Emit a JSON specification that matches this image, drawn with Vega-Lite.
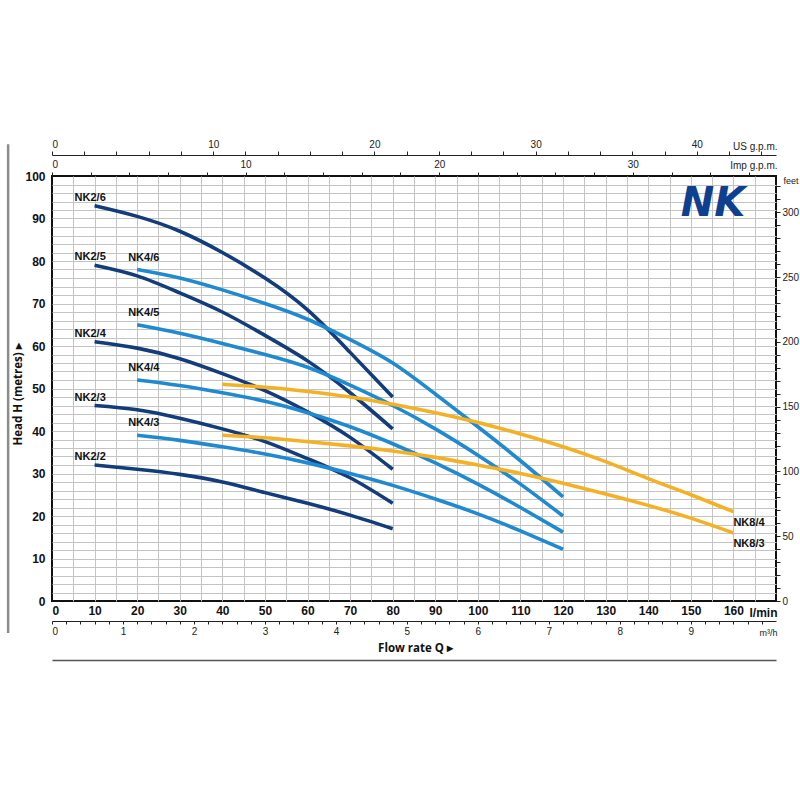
{
  "$schema": "https://vega.github.io/schema/vega-lite/v6.json",
  "width": 724,
  "height": 425,
  "autosize": {"type": "none"},
  "padding": {"left": 52, "top": 176, "right": 24, "bottom": 199},
  "background": "white",
  "data": {
    "values": [
      {"series": "NK2/6", "family": "NK2", "Q": 10, "H": 93},
      {"series": "NK2/6", "family": "NK2", "Q": 20, "H": 90.5},
      {"series": "NK2/6", "family": "NK2", "Q": 30, "H": 87},
      {"series": "NK2/6", "family": "NK2", "Q": 40, "H": 82},
      {"series": "NK2/6", "family": "NK2", "Q": 50, "H": 76},
      {"series": "NK2/6", "family": "NK2", "Q": 60, "H": 68.5},
      {"series": "NK2/6", "family": "NK2", "Q": 70, "H": 58.5},
      {"series": "NK2/6", "family": "NK2", "Q": 80, "H": 48},
      {"series": "NK2/5", "family": "NK2", "Q": 10, "H": 79},
      {"series": "NK2/5", "family": "NK2", "Q": 20, "H": 76.5},
      {"series": "NK2/5", "family": "NK2", "Q": 30, "H": 72.5},
      {"series": "NK2/5", "family": "NK2", "Q": 40, "H": 68},
      {"series": "NK2/5", "family": "NK2", "Q": 50, "H": 62.5},
      {"series": "NK2/5", "family": "NK2", "Q": 60, "H": 56.5},
      {"series": "NK2/5", "family": "NK2", "Q": 70, "H": 49},
      {"series": "NK2/5", "family": "NK2", "Q": 80, "H": 40.5},
      {"series": "NK2/4", "family": "NK2", "Q": 10, "H": 61},
      {"series": "NK2/4", "family": "NK2", "Q": 20, "H": 59.5},
      {"series": "NK2/4", "family": "NK2", "Q": 30, "H": 57},
      {"series": "NK2/4", "family": "NK2", "Q": 40, "H": 53.5},
      {"series": "NK2/4", "family": "NK2", "Q": 50, "H": 49.5},
      {"series": "NK2/4", "family": "NK2", "Q": 60, "H": 44.5},
      {"series": "NK2/4", "family": "NK2", "Q": 70, "H": 38.5},
      {"series": "NK2/4", "family": "NK2", "Q": 80, "H": 31},
      {"series": "NK2/3", "family": "NK2", "Q": 10, "H": 46},
      {"series": "NK2/3", "family": "NK2", "Q": 20, "H": 45},
      {"series": "NK2/3", "family": "NK2", "Q": 30, "H": 43},
      {"series": "NK2/3", "family": "NK2", "Q": 40, "H": 40.5},
      {"series": "NK2/3", "family": "NK2", "Q": 50, "H": 37.5},
      {"series": "NK2/3", "family": "NK2", "Q": 60, "H": 33.5},
      {"series": "NK2/3", "family": "NK2", "Q": 70, "H": 29},
      {"series": "NK2/3", "family": "NK2", "Q": 80, "H": 23},
      {"series": "NK2/2", "family": "NK2", "Q": 10, "H": 32},
      {"series": "NK2/2", "family": "NK2", "Q": 20, "H": 31},
      {"series": "NK2/2", "family": "NK2", "Q": 30, "H": 29.8},
      {"series": "NK2/2", "family": "NK2", "Q": 40, "H": 28},
      {"series": "NK2/2", "family": "NK2", "Q": 50, "H": 25.5},
      {"series": "NK2/2", "family": "NK2", "Q": 60, "H": 23},
      {"series": "NK2/2", "family": "NK2", "Q": 70, "H": 20.2},
      {"series": "NK2/2", "family": "NK2", "Q": 80, "H": 17},
      {"series": "NK4/6", "family": "NK4", "Q": 20, "H": 78},
      {"series": "NK4/6", "family": "NK4", "Q": 30, "H": 76},
      {"series": "NK4/6", "family": "NK4", "Q": 40, "H": 73.2},
      {"series": "NK4/6", "family": "NK4", "Q": 50, "H": 70},
      {"series": "NK4/6", "family": "NK4", "Q": 60, "H": 66.3},
      {"series": "NK4/6", "family": "NK4", "Q": 70, "H": 61.5},
      {"series": "NK4/6", "family": "NK4", "Q": 80, "H": 56},
      {"series": "NK4/6", "family": "NK4", "Q": 90, "H": 48.7},
      {"series": "NK4/6", "family": "NK4", "Q": 100, "H": 41},
      {"series": "NK4/6", "family": "NK4", "Q": 110, "H": 33},
      {"series": "NK4/6", "family": "NK4", "Q": 120, "H": 24.5},
      {"series": "NK4/5", "family": "NK4", "Q": 20, "H": 65},
      {"series": "NK4/5", "family": "NK4", "Q": 30, "H": 63},
      {"series": "NK4/5", "family": "NK4", "Q": 40, "H": 60.6},
      {"series": "NK4/5", "family": "NK4", "Q": 50, "H": 58},
      {"series": "NK4/5", "family": "NK4", "Q": 60, "H": 55},
      {"series": "NK4/5", "family": "NK4", "Q": 70, "H": 50.8},
      {"series": "NK4/5", "family": "NK4", "Q": 80, "H": 46},
      {"series": "NK4/5", "family": "NK4", "Q": 90, "H": 40.5},
      {"series": "NK4/5", "family": "NK4", "Q": 100, "H": 34.3},
      {"series": "NK4/5", "family": "NK4", "Q": 110, "H": 27.5},
      {"series": "NK4/5", "family": "NK4", "Q": 120, "H": 20},
      {"series": "NK4/4", "family": "NK4", "Q": 20, "H": 52},
      {"series": "NK4/4", "family": "NK4", "Q": 30, "H": 50.7},
      {"series": "NK4/4", "family": "NK4", "Q": 40, "H": 49},
      {"series": "NK4/4", "family": "NK4", "Q": 50, "H": 47},
      {"series": "NK4/4", "family": "NK4", "Q": 60, "H": 44.3},
      {"series": "NK4/4", "family": "NK4", "Q": 70, "H": 41},
      {"series": "NK4/4", "family": "NK4", "Q": 80, "H": 37},
      {"series": "NK4/4", "family": "NK4", "Q": 90, "H": 32.5},
      {"series": "NK4/4", "family": "NK4", "Q": 100, "H": 27.5},
      {"series": "NK4/4", "family": "NK4", "Q": 110, "H": 22},
      {"series": "NK4/4", "family": "NK4", "Q": 120, "H": 16.2},
      {"series": "NK4/3", "family": "NK4", "Q": 20, "H": 39},
      {"series": "NK4/3", "family": "NK4", "Q": 30, "H": 37.8},
      {"series": "NK4/3", "family": "NK4", "Q": 40, "H": 36.3},
      {"series": "NK4/3", "family": "NK4", "Q": 50, "H": 34.6},
      {"series": "NK4/3", "family": "NK4", "Q": 60, "H": 32.5},
      {"series": "NK4/3", "family": "NK4", "Q": 70, "H": 30},
      {"series": "NK4/3", "family": "NK4", "Q": 80, "H": 27.2},
      {"series": "NK4/3", "family": "NK4", "Q": 90, "H": 24},
      {"series": "NK4/3", "family": "NK4", "Q": 100, "H": 20.5},
      {"series": "NK4/3", "family": "NK4", "Q": 110, "H": 16.5},
      {"series": "NK4/3", "family": "NK4", "Q": 120, "H": 12.2},
      {"series": "NK8/4", "family": "NK8", "Q": 40, "H": 51},
      {"series": "NK8/4", "family": "NK8", "Q": 50, "H": 50.3},
      {"series": "NK8/4", "family": "NK8", "Q": 60, "H": 49.3},
      {"series": "NK8/4", "family": "NK8", "Q": 70, "H": 48},
      {"series": "NK8/4", "family": "NK8", "Q": 80, "H": 46.3},
      {"series": "NK8/4", "family": "NK8", "Q": 90, "H": 44.3},
      {"series": "NK8/4", "family": "NK8", "Q": 100, "H": 42},
      {"series": "NK8/4", "family": "NK8", "Q": 110, "H": 39.3},
      {"series": "NK8/4", "family": "NK8", "Q": 120, "H": 36.3},
      {"series": "NK8/4", "family": "NK8", "Q": 130, "H": 32.8},
      {"series": "NK8/4", "family": "NK8", "Q": 140, "H": 28.8},
      {"series": "NK8/4", "family": "NK8", "Q": 150, "H": 25},
      {"series": "NK8/4", "family": "NK8", "Q": 160, "H": 21},
      {"series": "NK8/3", "family": "NK8", "Q": 40, "H": 39},
      {"series": "NK8/3", "family": "NK8", "Q": 50, "H": 38.4},
      {"series": "NK8/3", "family": "NK8", "Q": 60, "H": 37.5},
      {"series": "NK8/3", "family": "NK8", "Q": 70, "H": 36.5},
      {"series": "NK8/3", "family": "NK8", "Q": 80, "H": 35.3},
      {"series": "NK8/3", "family": "NK8", "Q": 90, "H": 33.8},
      {"series": "NK8/3", "family": "NK8", "Q": 100, "H": 32},
      {"series": "NK8/3", "family": "NK8", "Q": 110, "H": 30},
      {"series": "NK8/3", "family": "NK8", "Q": 120, "H": 27.7},
      {"series": "NK8/3", "family": "NK8", "Q": 130, "H": 25.2},
      {"series": "NK8/3", "family": "NK8", "Q": 140, "H": 22.5},
      {"series": "NK8/3", "family": "NK8", "Q": 150, "H": 19.5},
      {"series": "NK8/3", "family": "NK8", "Q": 160, "H": 16}
    ]
  },
  "layer": [
    {
      "layer": [
        {
          "mark": {"type": "line", "strokeWidth": 3.6, "interpolate": "natural"},
          "encoding": {
            "x": {
              "field": "Q",
              "type": "quantitative",
              "scale": {"domain": [0, 170], "nice": false},
              "axis": {
                "orient": "bottom",
                "values": [0, 5, 10, 15, 20, 25, 30, 35, 40, 45, 50, 55, 60, 65, 70, 75, 80, 85, 90, 95, 100, 105, 110, 115, 120, 125, 130, 135, 140, 145, 150, 155, 160, 165, 170],
                "tickCount": 500,
                "labelExpr": "datum.value % 10 == 0 && datum.value <= 160 ? format(datum.value, 'd') : ''",
                "labelOverlap": false,
                "ticks": false,
                "tickSize": 0,
                "domain": false,
                "grid": true,
                "gridColor": "#c4c4c4",
                "gridWidth": 1,
                "gridOpacity": {"condition": {"test": "datum.value == 0 || datum.value == 170", "value": 0}, "value": 1},
                "labelPadding": 4,
                "labelFont": "Liberation Sans",
                "labelFontWeight": "bold",
                "labelFontSize": 12,
                "labelColor": "#111",
                "title": "l/min",
                "titleX": 725,
                "titleY": 11,
                "titleAlign": "right",
                "titleBaseline": "middle",
                "titleFont": "Liberation Sans",
                "titleFontWeight": "bold",
                "titleFontSize": 12,
                "titleColor": "#111"
              }
            },
            "y": {
              "field": "H",
              "type": "quantitative",
              "scale": {"domain": [0, 100], "nice": false},
              "axis": {
                "orient": "left",
                "values": [0, 2, 4, 6, 8, 10, 12, 14, 16, 18, 20, 22, 24, 26, 28, 30, 32, 34, 36, 38, 40, 42, 44, 46, 48, 50, 52, 54, 56, 58, 60, 62, 64, 66, 68, 70, 72, 74, 76, 78, 80, 82, 84, 86, 88, 90, 92, 94, 96, 98, 100],
                "tickCount": 500,
                "labelExpr": "datum.value % 10 == 0 ? format(datum.value, 'd') : ''",
                "labelOverlap": false,
                "ticks": false,
                "tickSize": 0,
                "domain": false,
                "grid": true,
                "gridColor": "#c4c4c4",
                "gridWidth": 1,
                "gridOpacity": {"condition": {"test": "datum.value == 0 || datum.value == 100", "value": 0}, "value": 1},
                "labelPadding": 7,
                "labelFont": "Liberation Sans",
                "labelFontWeight": "bold",
                "labelFontSize": 12,
                "labelColor": "#111",
                "title": "Head H  (metres)  ▸",
                "titleX": -34,
                "titleY": 218,
                "titleAngle": -90,
                "titleAlign": "center",
                "titleBaseline": "middle",
                "titleFont": "Open Sans",
                "titleFontWeight": "bold",
                "titleFontSize": 11.5,
                "titleColor": "#111"
              }
            },
            "color": {
              "field": "family",
              "type": "nominal",
              "scale": {"domain": ["NK2", "NK4", "NK8"], "range": ["#123c7a", "#1f8ad0", "#f5b126"]},
              "legend": null
            },
            "detail": {"field": "series", "type": "nominal"},
            "order": {"field": "Q", "type": "quantitative"}
          }
        },
        {
          "data": {"values": [{}]},
          "mark": {"type": "rule", "color": "#8c8c8c", "strokeWidth": 2.5},
          "encoding": {
            "x": {"datum": -10.3, "type": "quantitative"},
            "y": {"datum": 107.5, "type": "quantitative"},
            "y2": {"datum": -7.5}
          }
        },
        {
          "transform": [{"filter": "datum.family == 'NK2' && datum.Q == 10"}],
          "mark": {"type": "text", "align": "left", "baseline": "alphabetic", "dx": -20, "dy": -5, "font": "Liberation Sans", "fontWeight": "bold", "fontSize": 11, "color": "#111"},
          "encoding": {
            "x": {"field": "Q", "type": "quantitative"},
            "y": {"field": "H", "type": "quantitative"},
            "text": {"field": "series"}
          }
        },
        {
          "transform": [{"filter": "datum.family == 'NK4' && datum.Q == 20"}],
          "mark": {"type": "text", "align": "left", "baseline": "alphabetic", "dx": -9, "dy": -9, "font": "Liberation Sans", "fontWeight": "bold", "fontSize": 11, "color": "#111"},
          "encoding": {
            "x": {"field": "Q", "type": "quantitative"},
            "y": {"field": "H", "type": "quantitative"},
            "text": {"field": "series"}
          }
        },
        {
          "transform": [{"filter": "datum.family == 'NK8' && datum.Q == 160"}],
          "mark": {"type": "text", "align": "left", "baseline": "alphabetic", "dx": 0, "dy": 14, "font": "Liberation Sans", "fontWeight": "bold", "fontSize": 11, "color": "#111"},
          "encoding": {
            "x": {"field": "Q", "type": "quantitative"},
            "y": {"field": "H", "type": "quantitative"},
            "text": {"field": "series"}
          }
        },
        {
          "data": {"values": [{}]},
          "mark": {"type": "text", "text": "NK", "font": "DejaVu Sans", "fontStyle": "italic", "fontWeight": "bold", "fontSize": 40, "color": "#0f3f8f", "align": "center", "baseline": "middle"},
          "encoding": {
            "x": {"datum": 155.2, "type": "quantitative"},
            "y": {"datum": 93.3, "type": "quantitative"}
          }
        }
      ]
    },
    {
      "data": {"values": [{}]},
      "mark": {"type": "point", "opacity": 0},
      "encoding": {
        "x": {
          "datum": 0,
          "type": "quantitative",
          "scale": {"domain": [0, 37.395], "nice": false},
          "axis": {
            "orient": "top",
            "offset": 0,
            "values": [0, 2, 4, 6, 8, 10, 12, 14, 16, 18, 20, 22, 24, 26, 28, 30, 32, 34, 36],
            "tickCount": 500,
            "labelExpr": "datum.value % 10 == 0 ? format(datum.value, 'd') : ''",
            "labelOverlap": false,
            "domain": false,
            "grid": false,
            "tickSize": 4,
            "tickColor": "#222",
            "tickWidth": 1,
            "labelPadding": 3,
            "labelFont": "Liberation Sans",
            "labelFontSize": 10,
            "labelColor": "#222",
            "title": "Imp g.p.m.",
            "titleX": 725,
            "titleY": -11,
            "titleAlign": "right",
            "titleBaseline": "middle",
            "titleFont": "Liberation Sans",
            "titleFontSize": 10,
            "titleFontWeight": "normal",
            "titleColor": "#222"
          }
        }
      }
    },
    {
      "data": {"values": [{}]},
      "mark": {"type": "point", "opacity": 0},
      "encoding": {
        "x": {
          "datum": 0,
          "type": "quantitative",
          "scale": {"domain": [0, 44.909], "nice": false},
          "axis": {
            "orient": "top",
            "offset": 21,
            "values": [0, 2, 4, 6, 8, 10, 12, 14, 16, 18, 20, 22, 24, 26, 28, 30, 32, 34, 36, 38, 40, 42, 44],
            "tickCount": 500,
            "labelExpr": "datum.value % 10 == 0 ? format(datum.value, 'd') : ''",
            "labelOverlap": false,
            "domain": true,
            "domainColor": "#222",
            "domainWidth": 1,
            "grid": false,
            "tickSize": 4,
            "tickColor": "#222",
            "tickWidth": 1,
            "labelPadding": 2,
            "labelFont": "Liberation Sans",
            "labelFontSize": 10,
            "labelColor": "#222",
            "title": "US g.p.m.",
            "titleX": 725,
            "titleY": -9,
            "titleAlign": "right",
            "titleBaseline": "middle",
            "titleFont": "Liberation Sans",
            "titleFontSize": 10,
            "titleFontWeight": "normal",
            "titleColor": "#222"
          }
        }
      }
    },
    {
      "data": {"values": [{}]},
      "mark": {"type": "point", "opacity": 0},
      "encoding": {
        "x": {
          "datum": 0,
          "type": "quantitative",
          "scale": {"domain": [0, 10.2], "nice": false},
          "axis": {
            "orient": "bottom",
            "offset": 20,
            "values": [0, 0.2, 0.4, 0.6, 0.8, 1, 1.2, 1.4, 1.6, 1.8, 2, 2.2, 2.4, 2.6, 2.8, 3, 3.2, 3.4, 3.6, 3.8, 4, 4.2, 4.4, 4.6, 4.8, 5, 5.2, 5.4, 5.6, 5.8, 6, 6.2, 6.4, 6.6, 6.8, 7, 7.2, 7.4, 7.6, 7.8, 8, 8.2, 8.4, 8.6, 8.8, 9, 9.2, 9.4, 9.6, 9.8, 10],
            "tickCount": 500,
            "labelExpr": "datum.value % 1 == 0 && datum.value < 10 ? format(datum.value, 'd') : ''",
            "labelOverlap": false,
            "domain": true,
            "domainColor": "#222",
            "domainWidth": 1,
            "grid": false,
            "tickSize": 3,
            "tickColor": "#222",
            "tickWidth": 1,
            "labelPadding": 2,
            "labelFont": "Liberation Sans",
            "labelFontSize": 10,
            "labelColor": "#222",
            "title": "m³/h",
            "titleX": 725,
            "titleY": 11,
            "titleAlign": "right",
            "titleBaseline": "middle",
            "titleFont": "Liberation Sans",
            "titleFontSize": 9,
            "titleFontWeight": "normal",
            "titleColor": "#222"
          }
        }
      }
    },
    {
      "data": {"values": [{}]},
      "mark": {"type": "point", "opacity": 0},
      "encoding": {
        "x": {
          "datum": 0,
          "type": "quantitative",
          "scale": {"domain": [0, 170], "nice": false},
          "axis": {
            "orient": "bottom",
            "offset": 59,
            "domain": true,
            "domainColor": "#555",
            "domainWidth": 1.5,
            "ticks": false,
            "labels": false,
            "grid": false,
            "title": "Flow rate Q  ▸",
            "titleX": 363,
            "titleY": -12,
            "titleAlign": "center",
            "titleBaseline": "middle",
            "titleFont": "Open Sans",
            "titleFontWeight": "bold",
            "titleFontSize": 11.5,
            "titleColor": "#111"
          }
        }
      }
    },
    {
      "data": {"values": [{}]},
      "mark": {"type": "point", "opacity": 0},
      "encoding": {
        "y": {
          "datum": 0,
          "type": "quantitative",
          "scale": {"domain": [0, 328.084], "nice": false},
          "axis": {
            "orient": "right",
            "values": [0, 10, 20, 30, 40, 50, 60, 70, 80, 90, 100, 110, 120, 130, 140, 150, 160, 170, 180, 190, 200, 210, 220, 230, 240, 250, 260, 270, 280, 290, 300, 310, 320],
            "tickCount": 500,
            "labelExpr": "datum.value % 50 == 0 ? format(datum.value, 'd') : ''",
            "labelOverlap": false,
            "domain": false,
            "grid": false,
            "tickSize": 4,
            "tickColor": "#222",
            "tickWidth": 1,
            "labelPadding": 2,
            "labelFont": "Liberation Sans",
            "labelFontSize": 10,
            "labelColor": "#222",
            "title": "feet",
            "titleAngle": 0,
            "titleX": 7,
            "titleY": 4,
            "titleAlign": "left",
            "titleBaseline": "middle",
            "titleFont": "Liberation Sans",
            "titleFontSize": 9,
            "titleFontWeight": "normal",
            "titleColor": "#222"
          }
        }
      }
    }
  ],
  "resolve": {
    "scale": {"x": "independent", "y": "independent"},
    "axis": {"x": "independent", "y": "independent"}
  },
  "config": {
    "view": {"stroke": "#111", "strokeWidth": 2}
  }
}
